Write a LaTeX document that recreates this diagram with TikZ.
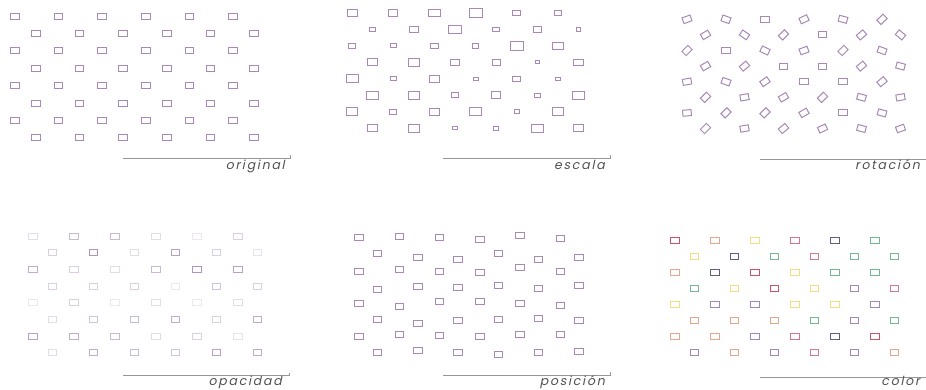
\documentclass[tikz,border=0pt]{standalone}
\usepackage{fontspec}
\newfontfamily\capfont{Poppins}[FakeSlant=0.2,LetterSpace=14]
\usetikzlibrary{positioning}

\definecolor{boxcol}{RGB}{168,136,182}
\definecolor{rulecol}{RGB}{150,150,150}
\definecolor{capcol}{RGB}{80,80,80}
% palette for the colour panel
\definecolor{cR}{RGB}{200,84,108}
\definecolor{cK}{RGB}{212,120,146}
\definecolor{cO}{RGB}{230,166,138}
\definecolor{cY}{RGB}{242,222,128}
\definecolor{cG}{RGB}{112,182,144}
\definecolor{cN}{RGB}{92,94,132}
\definecolor{cP}{RGB}{158,136,188}

\begin{document}
\begin{tikzpicture}[x=1pt, y=-1pt,
        box/.style={rectangle, draw=boxcol, line width=1pt, inner sep=0pt, minimum width=8.5pt, minimum height=6pt},
        rule/.style={draw=rulecol, line width=0.8pt},
        caption/.style={font=\capfont\fontsize{12.5}{13}\selectfont, text=capcol, anchor=base east, inner sep=0pt}
    ]
        \useasboundingbox (0,0) rectangle (926,389);

        % original
        \foreach \r in {1,...,8} {
            \foreach \c in {1,...,6} {
                \pgfmathsetmacro\xx{15+(\c-1)*43.6+mod(\r+1,2)*21}
                \pgfmathsetmacro\yy{16+(\r-1)*17.4}
                \node[box] (orig-\r-\c) at (\xx,\yy) {};
            }
        }
        \coordinate (orig-l) at (123,158.3);
        \coordinate (orig-r) at (290,158.3);
        \draw[rule] (orig-l) -- (orig-r) -- ++(0,-3);
        \node[caption] (orig-cap) at (285,169) {original};

        % escala
        \foreach \vals [count=\r] in {{1.25,1.1,1.4,1.6,1.0,0.8},{0.7,1.1,1.6,0.8,1.0,0.6},
                {0.8,0.7,0.9,0.8,1.6,1.3},{1.3,1.4,1.1,1.0,0.5,1.2},{1.5,0.7,1.2,0.6,1.0,0.6},
                {1.4,1.4,0.9,1.2,0.8,1.4},{1.4,0.9,1.3,1.5,0.7,1.4},{1.2,1.4,0.6,0.7,1.5,1.3}} {
            \foreach \s [count=\c] in \vals {
                \pgfmathsetmacro\xx{352+(\c-1)*41.2+mod(\r+1,2)*20.5}
                \pgfmathsetmacro\yy{13+(\r-1)*16.45}
                \pgfmathsetmacro\ww{8*\s}
                \pgfmathsetmacro\hh{5.5*\s}
                \node[box, minimum width=\ww pt, minimum height=\hh pt] (esc-\r-\c) at (\xx,\yy) {};
            }
        }
        \coordinate (esc-l) at (443,158.3);
        \coordinate (esc-r) at (610,158.3);
        \draw[rule] (esc-l) -- (esc-r) -- ++(0,-3);
        \node[caption] (esc-cap) at (605,169) {escala};

        % rotacion
        \foreach \vals [count=\r] in {{20,-20,0,25,-15,45},{30,-35,45,0,40,-40},
                {45,0,-25,20,45,-20},{30,40,0,0,40,-15},{10,-20,35,0,0,40},
                {45,10,30,45,-15,10},{5,45,45,30,0,-15},{45,10,40,25,-15,20}} {
            \foreach \a [count=\c] in \vals {
                \pgfmathsetmacro\xx{687+(\c-1)*39+mod(\r+1,2)*18.5}
                \pgfmathsetmacro\yy{19.3+(\r-1)*15.6}
                \node[box, rotate=\a] (rot-\r-\c) at (\xx,\yy) {};
            }
        }
        \coordinate (rot-l) at (760,159.3);
        \coordinate (rot-r) at (926,159.3);
        \draw[rule] (rot-l) -- (rot-r);
        \node[caption] (rot-cap) at (920,169.5) {rotación};

        % opacidad
        \foreach \vals [count=\r] in {{30,60,60,30,20,40},{40,90,30,80,40,25},
                {70,40,30,60,90,80},{40,40,40,20,50,40},{20,40,20,30,20,30},
                {30,50,60,70,40,70},{80,70,60,30,40,25},{30,70,60,50,80,70}} {
            \foreach \o [count=\c] in \vals {
                \pgfmathsetmacro\xx{33+(\c-1)*41+mod(\r+1,2)*19.5}
                \pgfmathsetmacro\yy{236+(\r-1)*16.7}
                \node[box, draw=boxcol!\o] (opa-\r-\c) at (\xx,\yy) {};
            }
        }
        \coordinate (opa-l) at (123,375.5);
        \coordinate (opa-r) at (289,375.5);
        \draw[rule] (opa-l) -- (opa-r) -- ++(0,-3);
        \node[caption] (opa-cap) at (282,385.5) {opacidad};

        % posicion
        \foreach \vals [count=\r] in {{237,236,237,239,235,238},{253,257,259,253,259,257},
                {271,269,271,272,267,271},{289,286,287,285,288,285},{303,306,301,301,303,305},
                {319,323,320,319,318,320},{336,334,335,336,334,334},{352,350,352,354,352,351}} {
            \foreach \yy [count=\c] in \vals {
                \pgfmathsetmacro\xx{359+(\c-1)*40.3+mod(\r+1,2)*18.5}
                \node[box] (pos-\r-\c) at (\xx,\yy) {};
            }
        }
        \coordinate (pos-l) at (443,375);
        \coordinate (pos-r) at (610,375);
        \draw[rule] (pos-l) -- (pos-r) -- ++(0,-3);
        \node[caption] (pos-cap) at (605,385.5) {posición};

        % color
        \foreach \vals [count=\r] in {{cR,cO,cY,cK,cN,cG},{cY,cN,cG,cK,cG,cG},
                {cO,cN,cR,cY,cG,cG},{cG,cY,cR,cY,cP,cK},{cY,cP,cP,cY,cY,cP},
                {cO,cO,cO,cG,cP,cG},{cO,cO,cP,cK,cN,cR},{cP,cO,cP,cK,cP,cO}} {
            \foreach \col [count=\c] in \vals {
                \pgfmathsetmacro\xx{675+(\c-1)*40+mod(\r+1,2)*19.5}
                \pgfmathsetmacro\yy{240+(\r-1)*16}
                \node[box, draw=\col] (col-\r-\c) at (\xx,\yy) {};
            }
        }
        \coordinate (col-l) at (760,377.3);
        \coordinate (col-r) at (926,377.3);
        \draw[rule] (col-l) -- (col-r);
        \node[caption] (col-cap) at (920,385.5) {color};
    \end{tikzpicture}
\end{document}
